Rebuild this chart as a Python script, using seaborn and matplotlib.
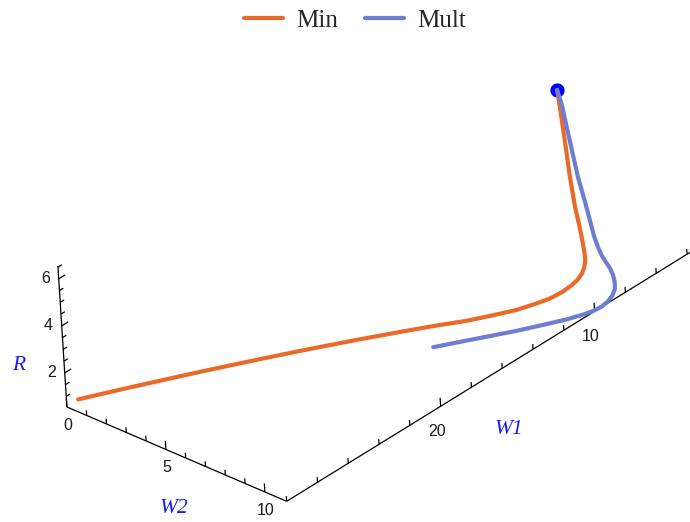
import matplotlib
matplotlib.use("Agg")
import numpy as np
import pandas as pd
import seaborn as sns
import matplotlib.pyplot as plt
from matplotlib.lines import Line2D
from mpl_toolkits.mplot3d import proj3d

# Trajectories in (W1, W2, R) space
min_w1 = [5.71, 5.90, 6.26, 6.67, 7.12, 7.46, 7.81, 8.12, 8.42, 8.78, 9.18, 9.59,
          10.03, 10.62, 11.33, 12.07, 12.84, 13.81, 14.78, 15.91, 17.20, 19.06,
          20.95, 22.88, 24.83, 26.42, 28.01, 29.70]
min_w2 = [6.32, 6.57, 7.01, 7.49, 8.03, 8.48, 8.88, 9.20, 9.47, 9.70, 9.88, 9.99,
          10.03, 10.03, 9.92, 9.69, 9.42, 8.92, 8.40, 7.67, 6.90, 5.82,
          4.77, 3.74, 2.73, 1.94, 1.16, 0.36]
min_r = [6.5, 5.9, 4.8, 3.65, 2.75, 2.2, 1.85, 1.62, 1.5, 1.43, 1.38, 1.33,
         1.29, 1.25, 1.2, 1.17, 1.15, 1.12, 1.1, 1.08, 1.06, 1.03,
         1.0, 0.97, 0.94, 0.92, 0.9, 0.88]

mult_w1 = [5.71, 5.75, 6.13, 6.48, 6.83, 7.29, 7.69, 7.96, 8.15, 8.21, 8.26, 8.44,
           8.69, 9.02, 9.43, 9.88, 10.32, 10.76, 11.27, 11.96, 13.01, 13.94,
           15.82, 17.10]
mult_w2 = [6.32, 6.54, 7.16, 7.76, 8.32, 8.91, 9.40, 9.79, 10.13, 10.36, 10.59, 10.88,
           11.15, 11.41, 11.60, 11.72, 11.76, 11.70, 11.54, 11.25, 10.72, 10.25,
           9.20, 8.50]
mult_r = [6.5, 6.0, 4.8, 3.6, 2.95, 2.5, 2.2, 1.98, 1.8, 1.65, 1.5, 1.38,
          1.28, 1.21, 1.17, 1.14, 1.12, 1.1, 1.08, 1.05, 1.02, 1.0,
          0.97, 0.95]

start_point = (5.71, 6.32, 6.5)

series_names = ["Min", "Mult"]
series_colors = ["#EA6A2A", "#6D7DD1"]

w1_range = (3.5, 30.0)
w2_range = (0.0, 11.1)
r_range = (0.55, 6.55)

w1_ticks = list(range(4, 31, 2))
w1_labels = [10, 20]
w2_ticks = list(range(0, 11))
w2_labels = [0, 5, 10]
r_ticks = list(np.arange(1.0, 6.51, 0.5))
r_labels = [2, 4, 6]

sns.set_theme(style="white")
plt.rcParams["font.family"] = ["Liberation Sans", "DejaVu Sans"]

df = pd.concat([
    pd.DataFrame({"W1": min_w1, "W2": min_w2, "R": min_r, "series": "Min"}),
    pd.DataFrame({"W1": mult_w1, "W2": mult_w2, "R": mult_r, "series": "Mult"}),
])

fig = plt.figure(figsize=(6.9, 5.22), dpi=100)
ax = fig.add_axes([0.043, -0.1577, 0.9783, 1.2931], projection="3d", proj_type="ortho")
ax.set_axis_off()
ax.set_xlim(*w1_range)
ax.set_ylim(*w2_range)
ax.set_zlim(*r_range)
ax.set_box_aspect((606.1, 298.1, 165.4))
ax.view_init(elev=31.3, azim=44.3, roll=3.65)

proj = ax.get_proj()


def label_at(x, y, z, s, **kw):
    """Place a flat text label at the projected position of a 3D point."""
    px, py, _ = proj3d.proj_transform(x, y, z, proj)
    ax.text2D(px, py, s, transform=ax.transData, **kw)


axis_kw = dict(color="black", lw=0.9, solid_capstyle="butt")
w1_hi, w2_lo, r_lo = w1_range[1], w2_range[0], r_range[0]
w2_hi = w2_range[1]
# R axis, W2 axis, W1 axis
ax.plot([w1_hi, w1_hi], [w2_lo, w2_lo], list(r_range), **axis_kw)
ax.plot([w1_hi, w1_hi], list(w2_range), [r_lo, r_lo], **axis_kw)
ax.plot(list(w1_range), [w2_hi, w2_hi], [r_lo, r_lo], **axis_kw)

for t in r_ticks:
    L = 0.42 if t in r_labels else 0.25
    ax.plot([w1_hi, w1_hi - L], [w2_lo, w2_lo], [t, t], **axis_kw)
for t in w2_ticks:
    L = 0.36 if t in w2_labels else 0.22
    ax.plot([w1_hi, w1_hi], [t, t], [r_lo, r_lo + L], **axis_kw)
for t in w1_ticks:
    L = 0.36 if t in w1_labels else 0.22
    ax.plot([t, t], [w2_hi, w2_hi], [r_lo, r_lo + L], **axis_kw)

tick_font = dict(fontsize=11.5, color="#1a1a1a", ha="center", va="center")
for t in r_labels:
    label_at(w1_hi + 0.35, w2_lo - 0.39, t, str(t), **tick_font)
for t in w2_labels:
    label_at(w1_hi, t, r_lo - 0.78, str(t), **tick_font)
for t in w1_labels:
    label_at(t + 0.35, w2_hi, r_lo - 0.95, str(t), **tick_font)

title_font = dict(fontsize=15.5, color="#1a1aff", style="italic",
                  family=["Liberation Serif", "DejaVu Serif"], ha="center", va="center")
label_at(w1_hi + 1.23, w2_lo - 1.37, 2.3, "R", **title_font)
label_at(w1_hi, 5.2, r_lo - 2.45, "W2", **title_font)
label_at(15.8, w2_hi, r_lo - 2.7, "W1", **title_font)

for name, color in zip(series_names, series_colors):
    sub = df[df["series"] == name]
    ax.plot(sub["W1"].to_numpy(), sub["W2"].to_numpy(), sub["R"].to_numpy(),
            color=color, lw=3.0, solid_capstyle="round", solid_joinstyle="round")

ax.scatter([start_point[0]], [start_point[1]], [start_point[2]], s=85,
           color="#0000FF", depthshade=False, zorder=10)

handles = [Line2D([], [], color=c, lw=3) for c in series_colors]
fig.legend(handles, series_names, loc="upper center", bbox_to_anchor=(0.5145, 1.025),
           ncol=2, frameon=False, handlelength=1.56, handletextpad=0.56,
           columnspacing=1.04, prop={"family": ["Liberation Serif", "DejaVu Serif"], "size": 18})

fig.savefig("out.png", dpi=100)
